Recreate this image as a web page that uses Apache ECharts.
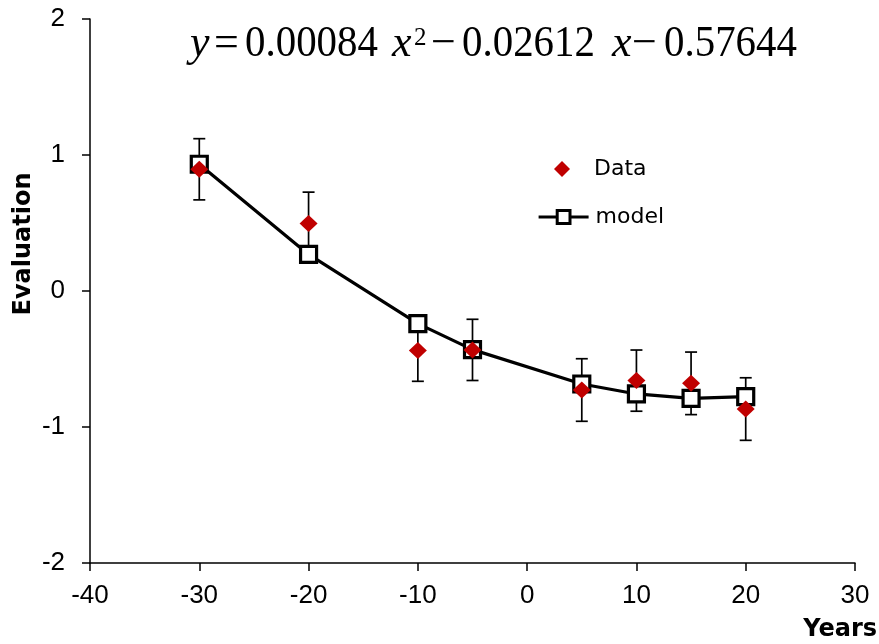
<!DOCTYPE html>
<html><head><meta charset="utf-8">
<script src="https://cdn.jsdelivr.net/npm/echarts@6/dist/echarts.min.js"></script>
<style>html,body{margin:0;padding:0;background:#fff}#c{width:879px;height:644px}</style>
</head><body><div id="c"></div>
<script>
const years = [-30, -20, -10, -5, 5, 10, 15, 20];
const dataValues = [0.895, 0.497, -0.438, -0.433, -0.728, -0.659, -0.679, -0.868];
const errorValues = [0.225, 0.23, 0.226, 0.225, 0.23, 0.225, 0.23, 0.23];
const modelValues = [0.932, 0.269, -0.24, -0.431, -0.684, -0.757, -0.79, -0.777];
const xTicks = [-40, -30, -20, -10, 0, 10, 20, 30];
const yTicks = [-2, -1, 0, 1, 2];

const chart = echarts.init(document.getElementById('c'));
const TICKFONT = 'Liberation Sans';
const FONT = 'DejaVu Sans';
const SERIF = 'Liberation Serif';
const errData = years.map((x, i) => [x, dataValues[i] - errorValues[i], dataValues[i] + errorValues[i]]);

function eqText(txt, x, y, opts) {
  opts = opts || {};
  return {
    type: 'text', x: x, y: y, scaleX: opts.sx || 0.93, z: 10,
    style: {
      text: txt, fontFamily: SERIF, fontSize: opts.size || 44,
      fontStyle: opts.italic ? 'italic' : 'normal', fill: '#000',
      textAlign: 'left', textVerticalAlign: 'middle'
    }
  };
}

chart.setOption({
  animation: false,
  grid: { left: 90, right: 24, top: 19, bottom: 81 },
  xAxis: {
    type: 'value', min: xTicks[0], max: xTicks[xTicks.length - 1], interval: 10,
    axisLine: { onZero: false, lineStyle: { color: '#000', width: 1.5 } },
    axisTick: { show: true, length: 8, lineStyle: { color: '#000', width: 1.5 } },
    axisLabel: { color: '#000', fontFamily: TICKFONT, fontSize: 26, margin: 20 },
    splitLine: { show: false }
  },
  yAxis: {
    type: 'value', min: yTicks[0], max: yTicks[yTicks.length - 1], interval: 1,
    axisLine: { show: true, onZero: false, lineStyle: { color: '#000', width: 1.5 } },
    axisTick: { show: true, length: 8, lineStyle: { color: '#000', width: 1.5 } },
    axisLabel: { color: '#000', fontFamily: TICKFONT, fontSize: 26, margin: 25 },
    splitLine: { show: false }
  },
  legend: [
    {
      orient: 'vertical', left: 554, top: 156, padding: 0, itemWidth: 16, itemHeight: 16,
      textStyle: { fontFamily: FONT, fontSize: 22, color: '#000', lineHeight: 26, padding: [0, 0, 0, 19] },
      data: [{ name: 'Data', icon: 'diamond' }]
    },
    {
      orient: 'vertical', left: 537, top: 204, padding: 0, itemWidth: 50, itemHeight: 16,
      textStyle: { fontFamily: FONT, fontSize: 22, color: '#000', lineHeight: 26, padding: [0, 0, 0, 2] },
      lineStyle: { width: 3.2, color: '#000' },
      itemStyle: { color: '#fff', borderColor: '#000', borderWidth: 3 },
      data: ['model']
    }
  ],
  series: [
    {
      name: 'errbar', type: 'custom', z: 2,
      renderItem: function (params, api) {
        const x = api.value(0);
        const lo = api.coord([x, api.value(1)]);
        const hi = api.coord([x, api.value(2)]);
        const w = 6;
        const st = { stroke: '#000', lineWidth: 1.7 };
        return {
          type: 'group', children: [
            { type: 'line', shape: { x1: lo[0], y1: lo[1], x2: hi[0], y2: hi[1] }, style: st },
            { type: 'line', shape: { x1: lo[0] - w, y1: lo[1], x2: lo[0] + w, y2: lo[1] }, style: st },
            { type: 'line', shape: { x1: hi[0] - w, y1: hi[1], x2: hi[0] + w, y2: hi[1] }, style: st }
          ]
        };
      },
      encode: { x: 0, y: [1, 2] },
      data: errData
    },
    {
      name: 'model', type: 'line', z: 3,
      data: years.map((x, i) => [x, modelValues[i]]),
      symbol: 'rect', symbolSize: 16, showAllSymbol: true,
      lineStyle: { color: '#000', width: 3.2 },
      itemStyle: { color: '#fff', borderColor: '#000', borderWidth: 3.2 }
    },
    {
      name: 'Data', type: 'scatter', z: 4,
      data: years.map((x, i) => [x, dataValues[i]]),
      symbol: 'diamond', symbolSize: [18, 17],
      itemStyle: { color: '#C00000', opacity: 1 }
    }
  ],
  graphic: [
    eqText('y', 190, 44, { italic: true, sx: 1 }),
    eqText('=', 214, 44, { sx: 1 }),
    eqText('0.00084', 245, 44),
    eqText('x', 392, 44, { italic: true, sx: 1 }),
    eqText('2', 414, 38, { size: 25, sx: 1 }),
    eqText('−', 431, 44, { sx: 1 }),
    eqText('0.02612', 462, 44),
    eqText('x', 612, 44, { italic: true, sx: 1 }),
    eqText('−', 632, 44, { sx: 1 }),
    eqText('0.57644', 664, 44),
    {
      type: 'text', x: 24, y: 244, rotation: Math.PI / 2,
      style: { text: 'Evaluation', fontFamily: FONT, fontWeight: 'bold', fontSize: 24, fill: '#000',
               textAlign: 'center', textVerticalAlign: 'middle' }
    },
    {
      type: 'text', x: 877, y: 630,
      style: { text: 'Years', fontFamily: FONT, fontWeight: 'bold', fontSize: 24, fill: '#000',
               textAlign: 'right', textVerticalAlign: 'middle' }
    }
  ]
});
</script></body></html>
